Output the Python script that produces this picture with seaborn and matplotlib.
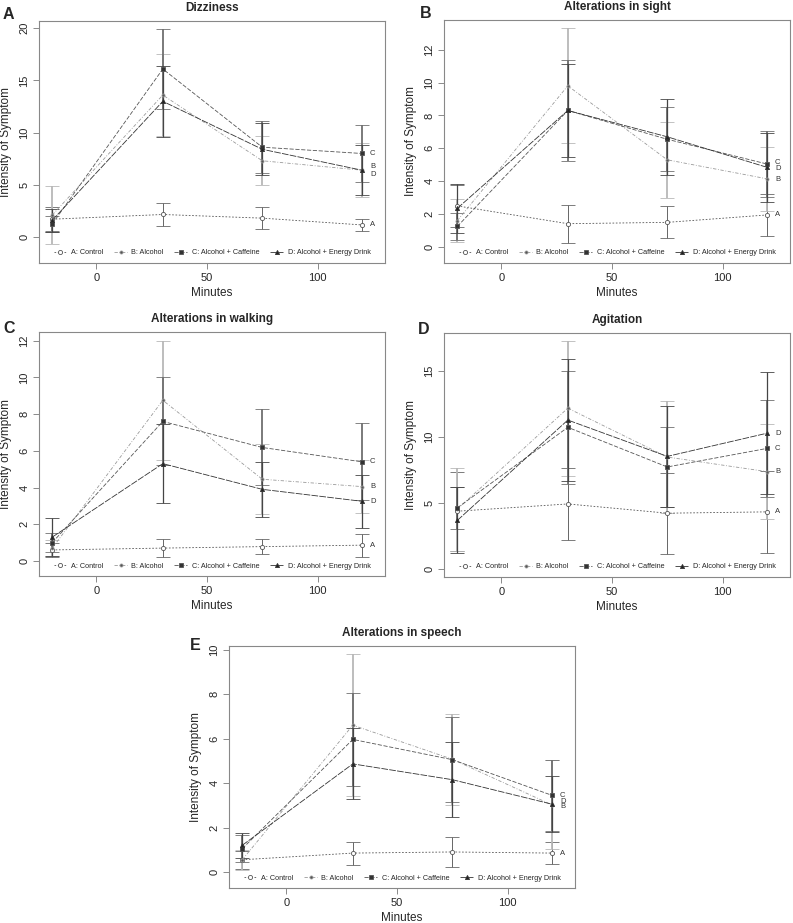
import numpy as np
import pandas as pd
import matplotlib
matplotlib.use("Agg")
import matplotlib.pyplot as plt
import seaborn as sns
from matplotlib.lines import Line2D

# time points (minutes) and the four treatment groups
minutes = [-20, 30, 75, 120]
groups = ["A", "B", "C", "D"]
group_names = ["A: Control", "B: Alcohol", "C: Alcohol + Caffeine", "D: Alcohol + Energy Drink"]

# mean intensity per group (rows A-D) and error bar half-widths
dizziness_mean = [[1.7, 2.15, 1.8, 1.15],
                  [2.1, 13.6, 7.3, 6.4],
                  [1.25, 16.1, 8.6, 8.0],
                  [1.6, 13.0, 8.4, 6.4]]
dizziness_err = [[1.15, 1.1, 1.07, 0.57],
                 [2.75, 3.9, 2.35, 2.6],
                 [0.8, 3.8, 2.5, 2.7],
                 [1.1, 3.4, 2.5, 2.4]]

sight_mean = [[2.5, 1.42, 1.5, 1.95],
              [1.6, 9.8, 5.3, 4.15],
              [1.25, 8.3, 6.55, 5.05],
              [2.35, 8.3, 6.7, 4.85]]
sight_err = [[1.3, 1.15, 0.97, 1.25],
             [1.3, 3.5, 2.3, 1.95],
             [0.8, 3.05, 1.95, 2.0],
             [1.5, 2.8, 2.3, 2.1]]

walking_mean = [[0.6, 0.7, 0.78, 0.86],
                [0.7, 8.75, 4.45, 4.05],
                [1.0, 7.6, 6.18, 5.4],
                [1.3, 5.3, 3.9, 3.25]]
walking_err = [[0.4, 0.47, 0.42, 0.62],
               [0.45, 3.25, 1.9, 1.45],
               [0.5, 2.4, 2.07, 2.1],
               [1.05, 2.15, 1.5, 1.45]]

agitation_mean = [[4.35, 4.9, 4.2, 4.3],
                  [4.5, 12.15, 8.45, 7.35],
                  [4.6, 10.7, 7.7, 9.1],
                  [3.65, 11.25, 8.5, 10.25]]
agitation_err = [[3.0, 2.7, 3.07, 3.1],
                 [3.15, 5.1, 4.25, 3.6],
                 [1.6, 4.3, 3.0, 3.7],
                 [2.5, 4.65, 3.85, 4.6]]

speech_mean = [[0.55, 0.85, 0.9, 0.85],
               [0.55, 6.6, 5.07, 3.02],
               [1.05, 5.96, 5.05, 3.45],
               [1.2, 4.86, 4.15, 3.05]]
speech_err = [[0.4, 0.52, 0.68, 0.48],
              [0.45, 3.2, 2.05, 2.0],
              [0.6, 2.1, 1.9, 1.6],
              [0.55, 1.6, 1.7, 1.25]]

sns.set_theme(style="white")
plt.rcParams['font.family'] = ['Liberation Sans', 'DejaVu Sans']

# styles for each group (line colour, dash, marker, error bar colour / width)
line_col = ["#555555", "#9a9a9a", "#555555", "#333333"]
line_dash = [(0, (2, 2)), (0, (4, 2, 1, 2)), (0, (5, 2)), (0, (8, 1.5))]
mark = ["o", "o", "s", "^"]
mark_size = [3, 2.2, 2.6, 3]
mark_face = ["white", "#555555", "#333333", "#222222"]
err_col = ["#666666", "#b8b8b8", "#707070", "#454545"]
err_lw = [0.7, 1.3, 1.3, 0.9]

fig = plt.figure(figsize=(7.93, 9.23), dpi=100)
W, H = 793, 923


def px_axes(left, top, right, bottom):
    return fig.add_axes([left / W, 1 - bottom / H, (right - left) / W, (bottom - top) / H])


def draw_panel(ax, means, errs, title, ylim, yticks, nudge):
    for i, g in enumerate(groups):
        ax.errorbar(minutes, means[i], yerr=errs[i], fmt='none', ecolor=err_col[i],
                    elinewidth=err_lw[i], capsize=5, capthick=0.6, zorder=2 + i * 0.1)
    for i, g in enumerate(groups):
        sns.lineplot(x=minutes, y=means[i], ax=ax, color=line_col[i], linestyle=line_dash[i],
                     linewidth=0.6, marker=mark[i], markersize=mark_size[i],
                     markerfacecolor=mark_face[i], markeredgecolor=line_col[i],
                     markeredgewidth=0.6, zorder=4)
        ax.text(125, means[i][-1] + nudge[i], g, fontsize=5.5, ha='center', va='center',
                color='#333333')
    ax.set_xlim(-26, 130.5)
    ax.set_ylim(*ylim)
    ax.set_xticks([0, 50, 100])
    ax.set_yticks(yticks)
    ax.set_title(title, fontweight='bold', fontsize=8.5, pad=7)
    ax.set_xlabel('Minutes', fontsize=8.5, labelpad=3)
    ax.set_ylabel('Intensity of Symptom', fontsize=8.5, labelpad=5)
    ax.tick_params(axis='both', labelsize=8, length=4, width=0.6, color='#777777',
                   direction='out', pad=3, bottom=True, left=True)
    ax.tick_params(axis='y', labelrotation=90)
    for t in ax.get_yticklabels():
        t.set_va('center')
    for s in ax.spines.values():
        s.set_color('#888888')
        s.set_linewidth(0.8)
    handles = [Line2D([], [], color=line_col[i], linestyle=line_dash[i], linewidth=0.6,
                      marker=mark[i], markersize=mark_size[i], markerfacecolor=mark_face[i],
                      markeredgecolor=line_col[i], markeredgewidth=0.6) for i in range(4)]
    ax.legend(handles, group_names, loc='lower center', ncol=4, frameon=False, fontsize=5.2,
              handlelength=1.8, handletextpad=0.6, columnspacing=1.5, borderaxespad=0.5)


axA = px_axes(39, 21, 385, 263)
draw_panel(axA, dizziness_mean, dizziness_err, 'Dizziness', (-2.5, 20.7),
           [0, 5, 10, 15, 20], [0, 0.35, 0, -0.4])
axB = px_axes(444, 20, 790, 263)
draw_panel(axB, sight_mean, sight_err, 'Alterations in sight', (-0.97, 13.8),
           [0, 2, 4, 6, 8, 10, 12], [0, -0.05, 0.08, -0.08])
axC = px_axes(39, 332, 385, 576)
draw_panel(axC, walking_mean, walking_err, 'Alterations in walking', (-0.82, 12.47),
           [0, 2, 4, 6, 8, 10, 12], [0, 0, 0, 0])
axD = px_axes(444, 333, 790, 577)
draw_panel(axD, agitation_mean, agitation_err, 'Agitation', (-0.63, 17.84),
           [0, 5, 10, 15], [0, 0, 0, 0])
axE = px_axes(229, 646, 575, 888)
draw_panel(axE, speech_mean, speech_err, 'Alterations in speech', (-0.72, 10.16),
           [0, 2, 4, 6, 8, 10], [0, -0.08, 0, 0.13])

# panel letters
for letter, (lx, ly) in zip("ABCDE", [(3, 19), (420, 18), (3, 333), (418, 334), (190, 650)]):
    fig.text(lx / W, 1 - ly / H, letter, fontsize=11.5, fontweight='bold', va='baseline')

fig.savefig('out.png', dpi=100)
